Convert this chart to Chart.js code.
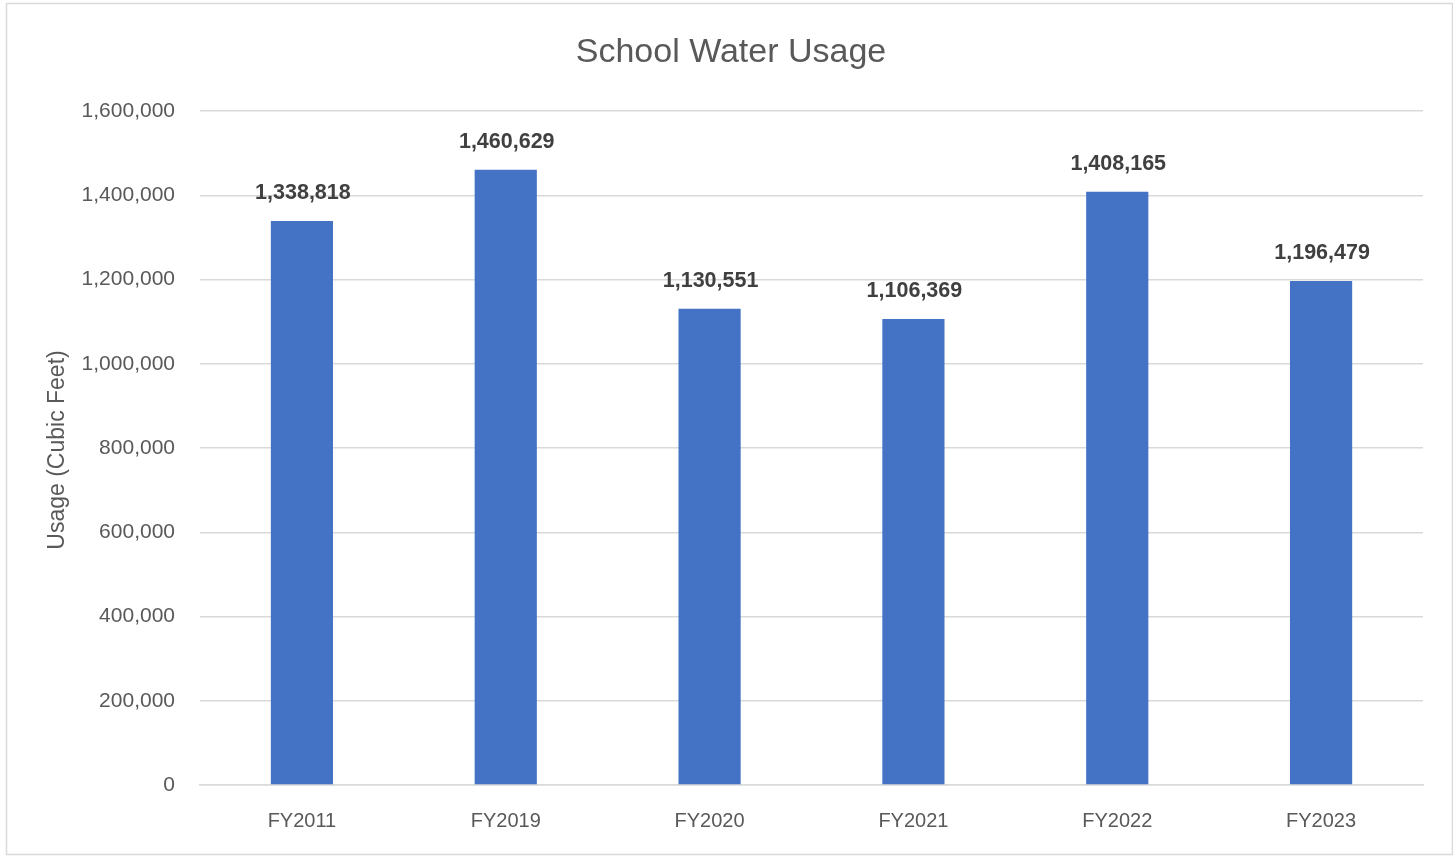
<!DOCTYPE html>
<html><head><meta charset="utf-8">
<script src="https://cdn.jsdelivr.net/npm/chart.js@4.4.0/dist/chart.umd.min.js"></script>
<style>html,body{margin:0;padding:0;background:#fff;}#wrap{width:1453px;height:856px;position:relative;}</style>
</head><body><div id="wrap"><canvas id="c" width="1453" height="856"></canvas></div>
<script>
const categories = ["FY2011","FY2019","FY2020","FY2021","FY2022","FY2023"];
const usage = [1338818,1460629,1130551,1106369,1408165,1196479];
const yTicks = [0,200000,400000,600000,800000,1000000,1200000,1400000,1600000];
const chartTitle = "School Water Usage";
const yTitle = "Usage (Cubic Feet)";
const FONT = "'Liberation Sans', Arial, sans-serif";

const fmt = v => v.toLocaleString('en-US');

const deco = {
  id:'deco',
  afterDraw(chart){
    const ctx = chart.ctx;
    ctx.save();
    // border
    ctx.strokeStyle = '#d9d9d9'; ctx.lineWidth = 1.5;
    ctx.strokeRect(6.5,3.5,1446,851);
    // title
    ctx.fillStyle = '#595959';
    ctx.font = "34px " + FONT;
    ctx.textAlign = 'center'; ctx.textBaseline = 'middle';
    ctx.fillText(chartTitle, 731, 53);
    // y title
    ctx.save();
    ctx.translate(58, 450);
    ctx.rotate(-Math.PI/2);
    ctx.font = "23px " + FONT;
    ctx.fillText(yTitle, 0, 0);
    ctx.restore();
    // data labels
    const meta = chart.getDatasetMeta(0);
    ctx.fillStyle = '#404040';
    ctx.font = "bold 21.5px " + FONT;
    ctx.textBaseline = 'alphabetic';
    meta.data.forEach((bar,i)=>{
      ctx.fillText(fmt(usage[i]), bar.x + 1, bar.y - 22);
    });
    ctx.restore();
  }
};

new Chart(document.getElementById('c'), {
  type:'bar',
  data:{labels:categories, datasets:[{data:usage, backgroundColor:'#4472c4', borderWidth:0, categoryPercentage:1, barPercentage:0.305}]},
  options:{
    responsive:false, animation:false, devicePixelRatio:1,
    layout:{padding:{top:111,left:0,right:30,bottom:0}},
    plugins:{legend:{display:false}, title:{display:false}, tooltip:{enabled:false}},
    scales:{
      x:{
        grid:{display:false, drawTicks:false},
        border:{display:true,color:'#d9d9d9',width:1.5},
        ticks:{color:'#595959', font:{family:FONT,size:20}, padding:24},
        afterFit(s){ s.height = 71; }
      },
      y:{
        min:0, max:1600000,
        afterBuildTicks(s){ s.ticks = yTicks.map(v=>({value:v})); },
        grid:{color:'#d9d9d9', lineWidth:1.5, drawTicks:false},
        border:{display:false},
        ticks:{color:'#595959', font:{family:FONT,size:21}, padding:25, callback:v=>fmt(v)},
        afterFit(s){ s.width = 200; }
      }
    }
  },
  plugins:[deco]
});
</script></body></html>
